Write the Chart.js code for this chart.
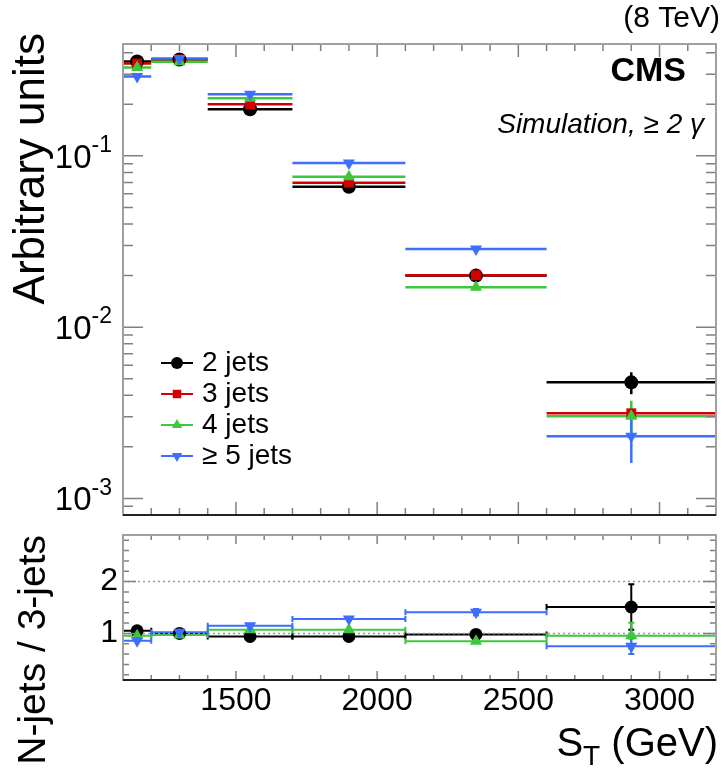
<!DOCTYPE html>
<html>
<head>
<meta charset="utf-8">
<title>S_T shape by jet multiplicity</title>
<script src="https://cdn.jsdelivr.net/npm/chart.js@4"></script>
<style>
  body { margin: 0; background: #fff; }
  #wrap { position: relative; width: 723px; height: 771px; }
  #topChart { position: absolute; left: 0; top: 0; }
  #ratioChart { position: absolute; left: 0; top: 522px; }
</style>
</head>
<body>
<div id="wrap">
  <canvas id="topChart" width="723" height="522"></canvas>
  <canvas id="ratioChart" width="723" height="249"></canvas>
</div>
<script>
// S_T bins (GeV)
const binLow = [1100, 1200, 1400, 1700, 2100, 2600];
const binHigh = [1200, 1400, 1700, 2100, 2600, 3200];
const binCenter = [1150, 1300, 1550, 1900, 2350, 2900];

// normalised shapes (arbitrary units) and their errors
const jets2 = [0.356, 0.365, 0.187, 0.066, 0.0200, 0.00476];
const jets2Err = [0.008, 0.006, 0.004, 0.0018, 0.0007, 0.0007];
const jets3 = [0.346, 0.365, 0.200, 0.0697, 0.0201, 0.00314];
const jets3Err = [0.006, 0.005, 0.003, 0.0013, 0.0004, 0.0002];
const jets4 = [0.328, 0.355, 0.217, 0.0755, 0.0171, 0.00302];
const jets4Err = [0.008, 0.006, 0.004, 0.0018, 0.0007, 0.0007];
const jets5 = [0.291, 0.370, 0.229, 0.091, 0.0286, 0.00231];
const jets5Err = [0.010, 0.008, 0.005, 0.0025, 0.0012, 0.0007];

// ratios to 3 jets
const ratio2 = [1.05, 1.00, 0.94, 0.94, 0.98, 1.51];
const ratio2Err = [0.03, 0.02, 0.02, 0.03, 0.05, 0.44];
const ratio4 = [0.955, 0.97, 1.07, 1.07, 0.85, 0.955];
const ratio4Err = [0.03, 0.02, 0.03, 0.04, 0.05, 0.25];
const ratio5 = [0.86, 1.02, 1.15, 1.28, 1.41, 0.75];
const ratio5Err = [0.03, 0.02, 0.03, 0.04, 0.06, 0.15];

// tick labels
const xTickValues = [1500, 2000, 2500, 3000];
const topTickValues = [0.001, 0.01, 0.1];
const topTickBase = '10';
const topTickExp = ['-3', '-2', '-1'];
const ratioTickValues = [1, 2];
const ratioTickLabels = ['1', '2'];

const FONT = "'Liberation Sans', Arial, Helvetica, sans-serif";
Chart.defaults.font.family = FONT;
Chart.defaults.color = '#000';

const BLACK = '#000000', RED = '#d20000', GREEN = '#3cc83c', BLUE = '#3c6eff';

function makePoints(values, errs) {
    return binCenter.map((c, i) => ({
        x: c, y: values[i],
        xMin: binLow[i], xMax: binHigh[i],
        yMin: values[i] - errs[i], yMax: values[i] + errs[i]
    }));
}

function series(label, values, errs, color, style, rot, order, radius) {
    return {
        label: label,
        data: makePoints(values, errs),
        showLine: false,
        borderColor: color,
        backgroundColor: color,
        pointStyle: style,
        rotation: rot,
        pointRadius: radius,
        pointBorderWidth: 0,
        order: order
    };
}

// horizontal (bin width) and vertical error bars
const errorBars = {
    id: 'errorBars',
    beforeDatasetsDraw(chart, args, opts) {
        const {ctx, scales: {x, y}} = chart;
        ctx.save();
        ctx.lineWidth = opts.width;
        chart.data.datasets.forEach(ds => {
            ctx.strokeStyle = ds.borderColor;
            ds.data.forEach(p => {
                const px = x.getPixelForValue(p.x), py = y.getPixelForValue(p.y);
                const x0 = x.getPixelForValue(p.xMin), x1 = x.getPixelForValue(p.xMax);
                const y0 = y.getPixelForValue(p.yMin), y1 = y.getPixelForValue(p.yMax);
                ctx.beginPath();
                ctx.moveTo(x0, py); ctx.lineTo(x1, py);
                ctx.moveTo(px, y0); ctx.lineTo(px, y1);
                if (opts.cap) {
                    const c = opts.cap;
                    ctx.moveTo(x0, py - c); ctx.lineTo(x0, py + c);
                    ctx.moveTo(x1, py - c); ctx.lineTo(x1, py + c);
                    if (Math.abs(y1 - y0) > 2 * c) {
                        ctx.moveTo(px - c, y0); ctx.lineTo(px + c, y0);
                        ctx.moveTo(px - c, y1); ctx.lineTo(px + c, y1);
                    }
                }
                ctx.stroke();
            });
        });
        ctx.restore();
    }
};

// ROOT-like frame with inward ticks on all sides
const rootFrame = {
    id: 'rootFrame',
    afterDraw(chart, args, o) {
        const {ctx, chartArea: a, scales: {x, y}} = chart;
        ctx.save();
        ctx.strokeStyle = '#808080';
        ctx.lineWidth = 1.5;
        ctx.beginPath();
        o.xTicks.forEach(t => {
            const px = x.getPixelForValue(t.v);
            ctx.moveTo(px, a.bottom); ctx.lineTo(px, a.bottom - t.len);
            ctx.moveTo(px, a.top); ctx.lineTo(px, a.top + t.len);
        });
        o.yTicks.forEach(t => {
            const py = y.getPixelForValue(t.v);
            ctx.moveTo(a.left, py); ctx.lineTo(a.left + t.len, py);
            ctx.moveTo(a.right, py); ctx.lineTo(a.right - t.len, py);
        });
        ctx.stroke();
        ctx.strokeStyle = '#a0a0a0';
        ctx.lineWidth = 2;
        ctx.strokeRect(a.left, a.top, a.right - a.left, a.bottom - a.top);
        ctx.strokeStyle = '#222';
        ctx.beginPath();
        ctx.moveTo(a.left, a.bottom); ctx.lineTo(a.right, a.bottom);
        ctx.stroke();
        ctx.restore();
    }
};

function xTickList(majorLen, minorLen) {
    const list = [];
    for (let v = 1100; v <= 3200; v += 100) {
        list.push({v: v, len: v % 500 === 0 ? majorLen : minorLen});
    }
    return list;
}

const logTicks = [];
for (let e = -4; e <= -1; e++) {
    for (let k = 1; k <= 9; k++) {
        const v = k * Math.pow(10, e);
        if (v >= 8e-4 && v <= 0.45) logTicks.push({v: v, len: k === 1 ? 20 : 10});
    }
}

const ratioTicks = [];
for (let i = 1; i <= 14; i++) {
    ratioTicks.push({v: i * 0.2, len: i % 5 === 0 ? 13 : 6});
}

// legend drawn inside the top pad
const insideLegend = {
    id: 'insideLegend',
    afterDraw(chart, args, o) {
        const {ctx} = chart;
        ctx.save();
        ctx.font = o.size + 'px ' + FONT;
        ctx.textBaseline = 'middle';
        o.items.forEach((idx, row) => {
            const ds = chart.data.datasets[idx];
            const yy = o.y + row * o.step;
            ctx.strokeStyle = ds.borderColor;
            ctx.fillStyle = ds.backgroundColor;
            ctx.lineWidth = 2;
            ctx.beginPath();
            ctx.moveTo(o.x, yy); ctx.lineTo(o.x + o.lineLen, yy);
            ctx.stroke();
            Chart.helpers.drawPoint(ctx, {pointStyle: ds.pointStyle, rotation: ds.rotation, radius: 6, borderWidth: 0},
                o.x + o.lineLen / 2, yy);
            ctx.fillStyle = '#000';
            ctx.fillText(ds.label, o.x + o.lineLen + 9, yy);
        });
        ctx.restore();
    }
};

// 10^n labels, the title and the CMS texts of the top pad
const topTexts = {
    id: 'topTexts',
    afterDraw(chart) {
        const {ctx, scales: {y}} = chart;
        ctx.save();
        ctx.fillStyle = '#000';
        ctx.textBaseline = 'middle';
        ctx.textAlign = 'left';
        topTickValues.forEach((v, i) => {
            const py = y.getPixelForValue(v);
            ctx.font = '23px ' + FONT;
            const wExp = ctx.measureText(topTickExp[i]).width;
            ctx.font = '33px ' + FONT;
            const wBase = ctx.measureText(topTickBase).width;
            const x0 = 112 - wExp - wBase;
            ctx.fillText(topTickBase, x0, py + 3);
            ctx.font = '23px ' + FONT;
            ctx.fillText(topTickExp[i], x0 + wBase, py - 10);
        });

        ctx.save();
        ctx.translate(32, 33);
        ctx.rotate(-Math.PI / 2);
        ctx.textAlign = 'right';
        ctx.font = '44px ' + FONT;
        ctx.fillText('Arbitrary units', 0, 0);
        ctx.restore();

        ctx.textAlign = 'right';
        ctx.font = '30px ' + FONT;
        ctx.fillText('(8 TeV)', 720, 19);
        ctx.font = 'bold 34px ' + FONT;
        ctx.fillText('CMS', 686, 72);
        ctx.font = 'italic 28px ' + FONT;
        ctx.fillText('Simulation, \u2265 2 \u03B3', 704, 125);
        ctx.restore();
    }
};

const ratioTexts = {
    id: 'ratioTexts',
    beforeDatasetsDraw(chart) {
        const {ctx, chartArea: a, scales: {y}} = chart;
        ctx.save();
        ctx.strokeStyle = '#999';
        ctx.lineWidth = 1.5;
        ctx.setLineDash([2, 3]);
        [1, 2].forEach(v => {
            const py = y.getPixelForValue(v);
            ctx.beginPath();
            ctx.moveTo(a.left, py); ctx.lineTo(a.right, py);
            ctx.stroke();
        });
        ctx.restore();
    },
    afterDraw(chart) {
        const {ctx} = chart;
        ctx.save();
        ctx.fillStyle = '#000';
        ctx.textBaseline = 'alphabetic';
        const big = '40px ' + FONT, small = '28px ' + FONT;
        ctx.font = big;
        const wS = ctx.measureText('S').width, wRest = ctx.measureText(' (GeV)').width;
        ctx.font = small;
        const wT = ctx.measureText('T').width;
        const x0 = 718 - (wS + wT + wRest);
        const base = 234;
        ctx.font = big;
        ctx.fillText('S', x0, base);
        ctx.font = small;
        ctx.fillText('T', x0 + wS, base + 9);
        ctx.font = big;
        ctx.fillText(' (GeV)', x0 + wS + wT, base);
        ctx.restore();
    }
};

new Chart(document.getElementById('topChart'), {
    type: 'scatter',
    data: {
        datasets: [
            series('2 jets', jets2, jets2Err, BLACK, 'circle', 0, 3, 7),
            series('3 jets', jets3, jets3Err, RED, 'rect', 0, 2, 7),
            series('4 jets', jets4, jets4Err, GREEN, 'triangle', 0, 1, 7),
            series('\u2265 5 jets', jets5, jets5Err, BLUE, 'triangle', 180, 0, 7)
        ]
    },
    options: {
        responsive: false,
        animation: false,
        layout: {padding: {top: 44, right: 3, bottom: 7, left: 0}},
        plugins: {
            legend: {display: false},
            tooltip: {enabled: false},
            errorBars: {width: 2.5},
            rootFrame: {xTicks: xTickList(13, 7), yTicks: logTicks},
            insideLegend: {items: [0, 1, 2, 3], x: 161, y: 363, step: 31, lineLen: 32, size: 28}
        },
        scales: {
            x: {type: 'linear', min: 1100, max: 3200, display: false},
            y: {
                type: 'logarithmic', min: 8e-4, max: 0.45,
                afterBuildTicks: s => { s.ticks = topTickValues.map(v => ({value: v})); },
                afterFit: s => { s.width = 123; s.paddingTop = 0; s.paddingBottom = 0; },
                grid: {display: false, drawTicks: false},
                border: {display: false},
                ticks: {callback: () => ''}
            }
        }
    },
    plugins: [errorBars, rootFrame, insideLegend, topTexts]
});

new Chart(document.getElementById('ratioChart'), {
    type: 'scatter',
    data: {
        datasets: [
            series('2 jets', ratio2, ratio2Err, BLACK, 'circle', 0, 3, 6.5),
            series('4 jets', ratio4, ratio4Err, GREEN, 'triangle', 0, 1, 7),
            series('\u2265 5 jets', ratio5, ratio5Err, BLUE, 'triangle', 180, 0, 7)
        ]
    },
    options: {
        responsive: false,
        animation: false,
        layout: {padding: {top: 13, right: 3, bottom: 0, left: 0}},
        plugins: {
            legend: {display: false},
            tooltip: {enabled: false},
            errorBars: {width: 2, cap: 3},
            rootFrame: {xTicks: xTickList(9, 5), yTicks: ratioTicks}
        },
        scales: {
            x: {
                type: 'linear', min: 1100, max: 3200,
                afterBuildTicks: s => { s.ticks = xTickValues.map(v => ({value: v})); },
                afterFit: s => { s.height = 91; s.paddingLeft = 0; s.paddingRight = 0; },
                grid: {display: false, drawTicks: false},
                border: {display: false},
                ticks: {font: {size: 32}, color: '#000', padding: 2, maxRotation: 0,
                        callback: v => String(v)}
            },
            y: {
                type: 'linear', min: 0.1, max: 2.9,
                afterBuildTicks: s => { s.ticks = ratioTickValues.map(v => ({value: v})); },
                afterFit: s => { s.width = 123; s.paddingTop = 0; s.paddingBottom = 0; },
                grid: {display: false, drawTicks: false},
                border: {display: false},
                ticks: {
                    callback: (v, i) => ratioTickLabels[i],
                    font: {size: 32},
                    color: '#000',
                    padding: 5
                },
                title: {
                    display: true, text: 'N-jets / 3-jets', align: 'end',
                    font: {size: 39}, color: '#000', padding: {top: 11, bottom: 0}
                }
            }
        }
    },
    plugins: [errorBars, rootFrame, ratioTexts]
});
</script>
</body>
</html>
